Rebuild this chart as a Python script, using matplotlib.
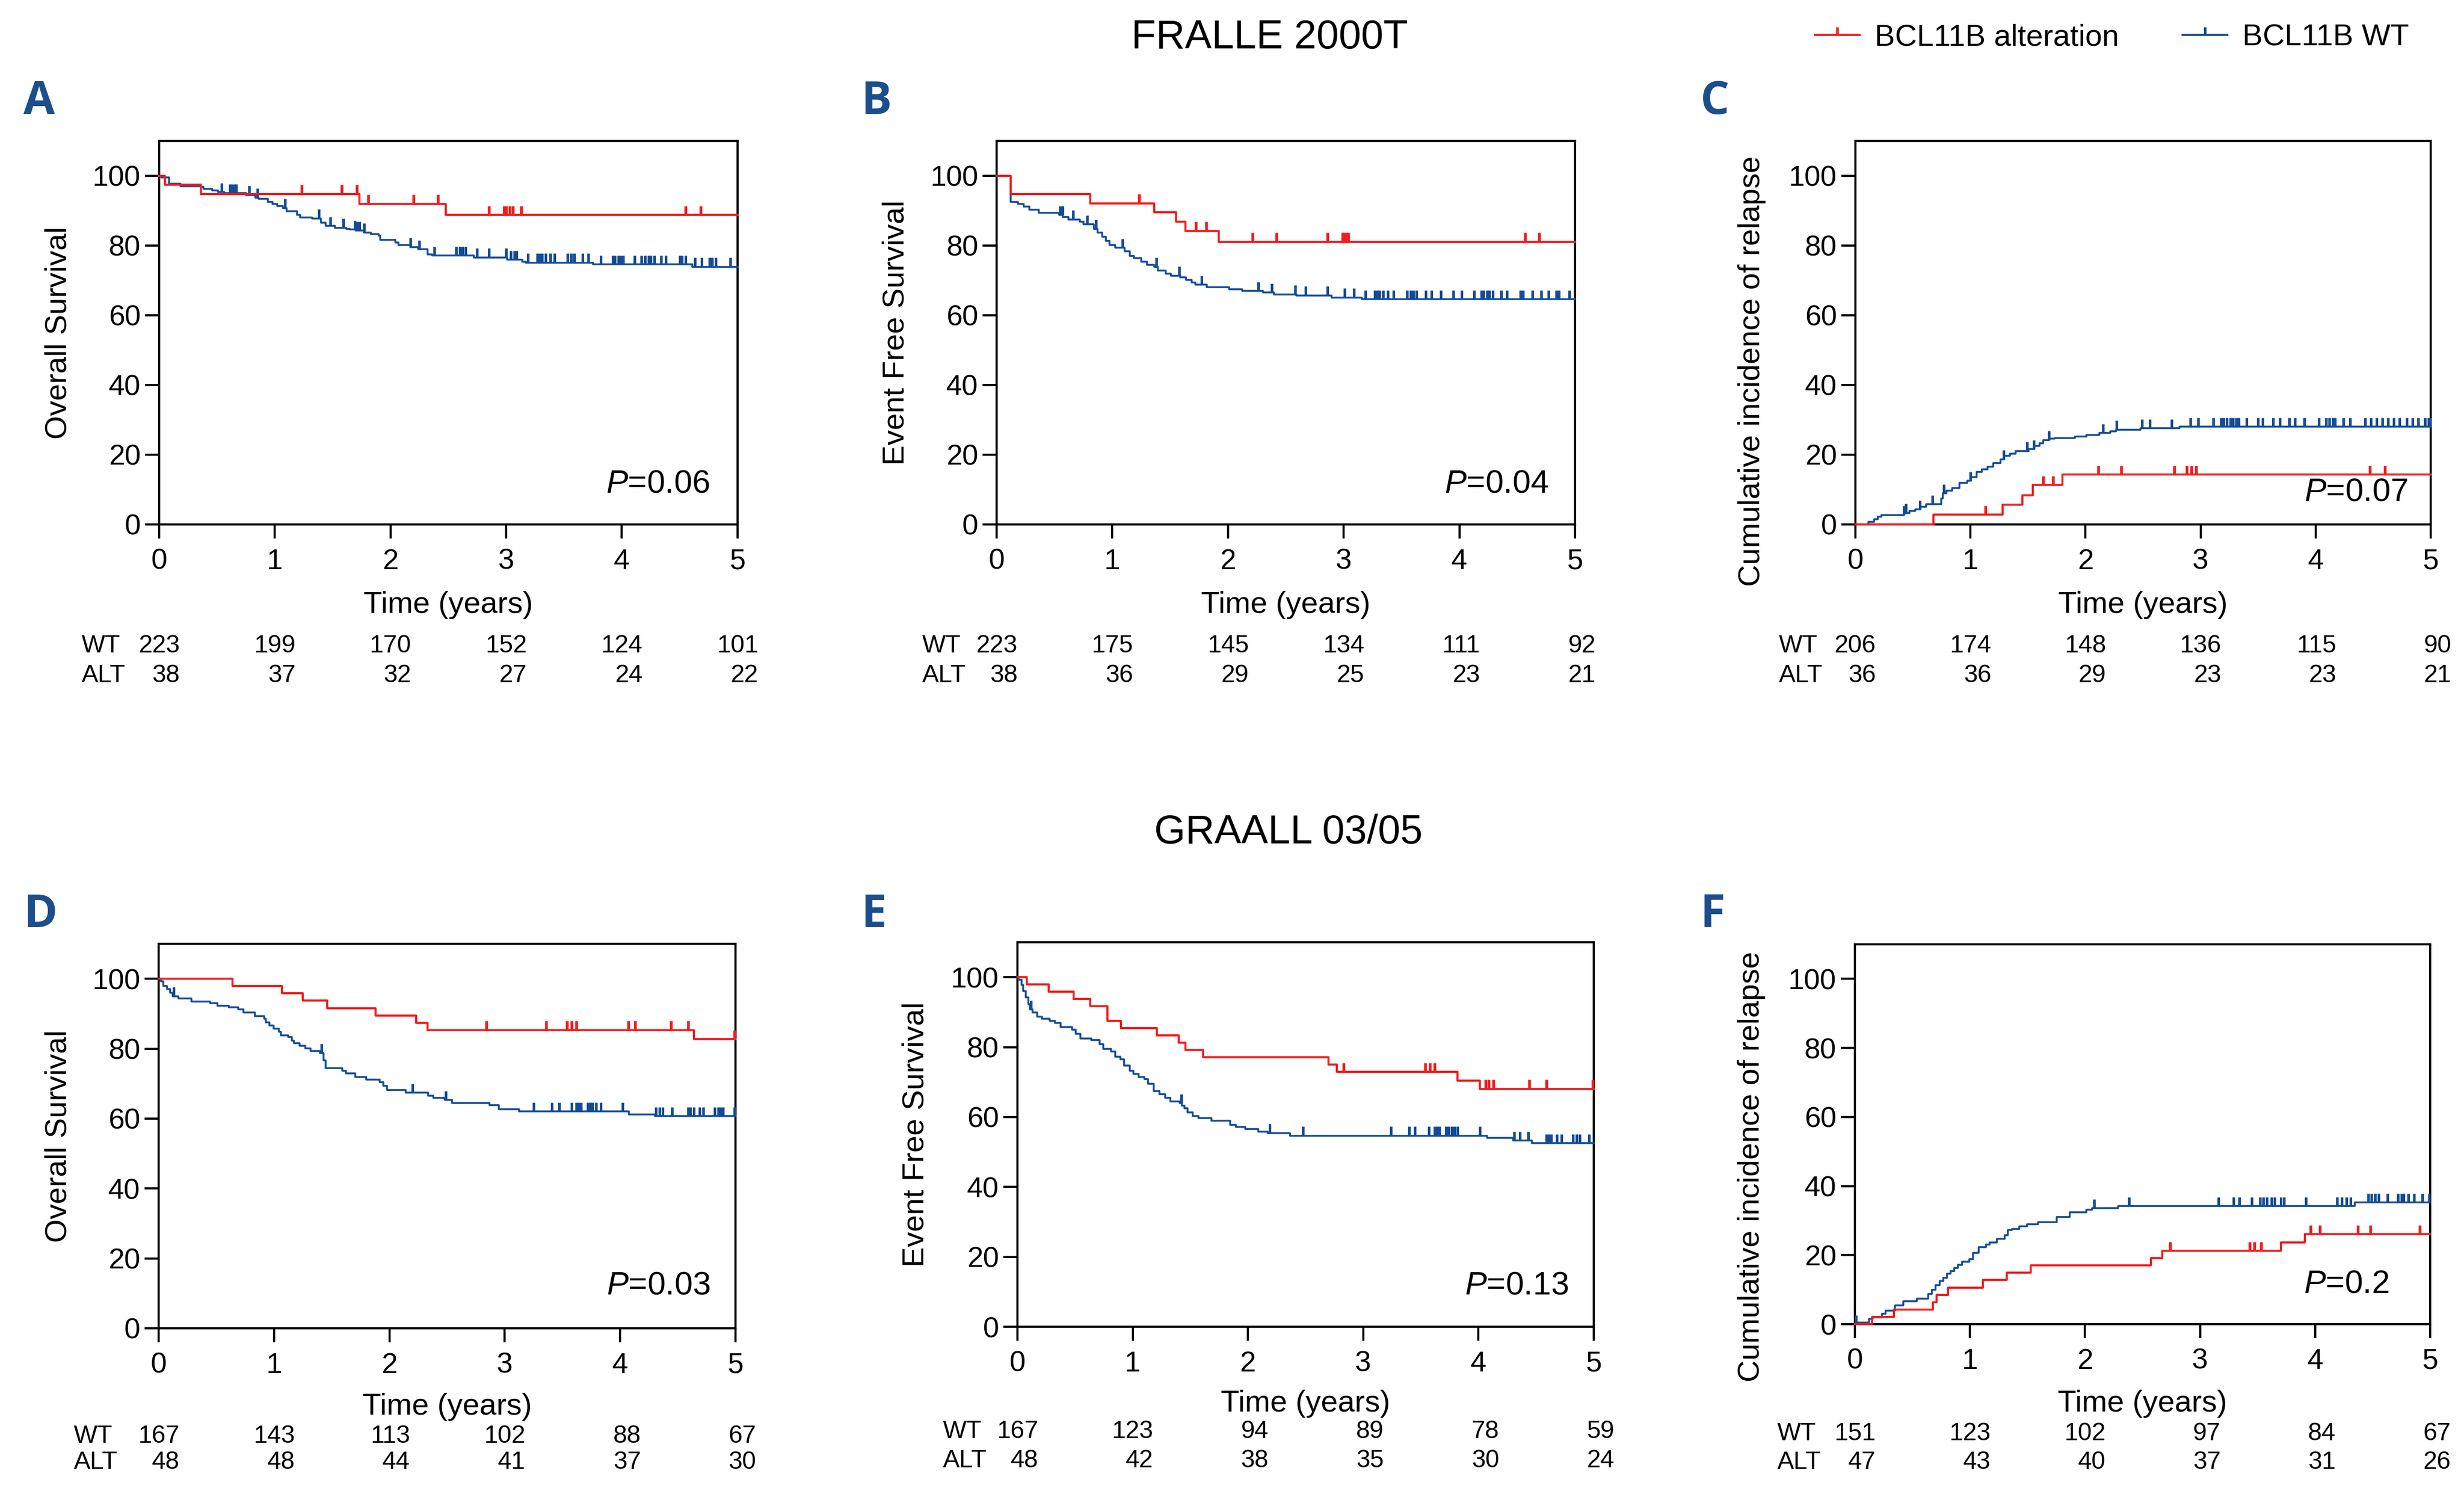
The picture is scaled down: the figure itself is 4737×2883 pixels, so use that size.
import numpy as np
import matplotlib
matplotlib.use('Agg')
import matplotlib.pyplot as plt
from matplotlib.lines import Line2D
from matplotlib.path import Path

plt.rcParams['font.family'] = ['Liberation Sans', 'DejaVu Sans']
plt.rcParams['mathtext.fontset'] = 'custom'
plt.rcParams['mathtext.it'] = 'Liberation Sans:italic'
plt.rcParams['mathtext.rm'] = 'Liberation Sans'

RED = '#f41c1c'
BLUE = '#134b94'
LETTER = '#1b4e8b'

# ---------------- Panel A : FRALLE 2000T, overall survival ----------------
a_alt_t = [0, 0.05, 0.36, 1.73, 2.48]
a_alt_s = [100, 97.4, 94.8, 92.0, 88.8]
a_alt_c = [1.23, 1.58, 1.71, 1.81, 2.20, 2.41, 2.85, 2.98, 3.00, 3.03, 3.06, 3.13, 4.55, 4.68]
a_wt_t = [0, 0.02, 0.087, 0.184, 0.362, 0.38, 0.46, 0.51, 0.56, 0.75, 0.83, 0.86, 0.94, 0.98,
          1.02, 1.07, 1.10, 1.19, 1.22, 1.32, 1.40, 1.44, 1.52, 1.62, 1.65, 1.70, 1.77, 1.83,
          1.90, 1.91, 2.04, 2.07, 2.17, 2.24, 2.32, 2.36, 2.72, 3.01, 3.14, 3.17, 3.75, 4.61]
a_wt_s = [100, 99.5, 97.8, 97.0, 96.8, 96.3, 95.8, 95.3, 95.0, 94.5, 93.8, 93.4, 92.5, 92.0,
          91.4, 90.8, 89.8, 88.8, 88.1, 87.8, 86.6, 85.6, 85.1, 84.8, 84.6, 84.3, 83.8, 83.3,
          82.8, 81.6, 80.9, 80.1, 79.6, 78.9, 77.4, 77.1, 76.6, 75.9, 75.4, 75.1, 74.6, 73.9]
a_wt_c = [0.54, 0.61, 0.63, 0.65, 0.665, 0.78, 0.85, 1.09, 1.38, 1.48, 1.59, 1.69, 1.71, 1.73,
          1.77, 2.17, 2.25, 2.38, 2.57, 2.60, 2.62, 2.65, 2.75, 2.85, 3.00, 3.04, 3.07, 3.09,
          3.19, 3.27, 3.29, 3.31, 3.34, 3.38, 3.42, 3.53, 3.56, 3.59, 3.66, 3.71, 3.82, 3.92,
          3.94, 3.97, 3.99, 4.01, 4.11, 4.17, 4.20, 4.23, 4.25, 4.28, 4.34, 4.38, 4.50, 4.52,
          4.55, 4.63, 4.69, 4.76, 4.78, 4.81, 4.94]
a_risk_wt = [223, 199, 170, 152, 124, 101]
a_risk_alt = [38, 37, 32, 27, 24, 22]

# ---------------- Panel B : FRALLE 2000T, event free survival ----------------
b_alt_t = [0, 0.12, 0.81, 1.36, 1.55, 1.63, 1.92]
b_alt_s = [100, 94.7, 92.1, 89.5, 86.8, 84.2, 81.1]
b_alt_c = [1.23, 1.72, 1.81, 2.21, 2.42, 2.86, 2.99, 3.00, 3.02, 3.04, 4.57, 4.69]
b_wt_t = [0, 0.12, 0.184, 0.233, 0.281, 0.362, 0.539, 0.572, 0.620, 0.717, 0.749, 0.840, 0.872,
          0.911, 0.943, 0.975, 1.024, 1.105, 1.153, 1.185, 1.250, 1.298, 1.363, 1.395, 1.460,
          1.508, 1.589, 1.638, 1.686, 1.718, 1.815, 2.009, 2.122, 2.300, 2.397, 2.590, 2.897, 3.156]
b_wt_s = [100, 92.5, 92.0, 91.2, 90.3, 89.4, 88.8, 88.2, 87.5, 86.8, 86.1, 84.8, 83.8,
          82.6, 81.3, 80.1, 79.4, 78.4, 77.0, 76.4, 75.4, 74.5, 73.9, 72.9, 72.0,
          71.4, 70.9, 70.1, 69.4, 68.8, 68.0, 67.4, 67.0, 66.5, 66.0, 65.7, 65.1, 64.6]
b_wt_c = [0.55, 0.57, 0.66, 0.78, 0.86, 1.09, 1.38, 1.58, 1.77, 2.26, 2.38, 2.58, 2.67, 2.86,
          3.01, 3.09, 3.19, 3.27, 3.29, 3.31, 3.34, 3.38, 3.43, 3.55, 3.58, 3.60, 3.63, 3.71,
          3.76, 3.84, 3.95, 4.02, 4.13, 4.19, 4.21, 4.24, 4.26, 4.29, 4.36, 4.41, 4.53, 4.55,
          4.63, 4.71, 4.77, 4.84, 4.86, 4.95]
b_risk_wt = [223, 175, 145, 134, 111, 92]
b_risk_alt = [38, 36, 29, 25, 23, 21]

# ---------------- Panel C : FRALLE 2000T, cumulative incidence of relapse ----------------
c_alt_t = [0, 0.68, 1.28, 1.45, 1.54, 1.80]
c_alt_s = [0, 2.8, 5.6, 8.4, 11.3, 14.3]
c_alt_c = [1.13, 1.63, 1.72, 2.11, 2.31, 2.77, 2.88, 2.92, 2.96, 4.47, 4.60]
c_wt_t = [0, 0.113, 0.162, 0.194, 0.227, 0.421, 0.469, 0.518, 0.566, 0.615, 0.744, 0.761,
          0.793, 0.841, 0.906, 0.971, 1.003, 1.052, 1.100, 1.149, 1.197, 1.262, 1.294, 1.343,
          1.392, 1.505, 1.553, 1.602, 1.634, 1.683, 1.731, 1.909, 2.006, 2.120, 2.217, 2.265,
          2.476, 2.816]
c_wt_s = [0, 0.8, 1.5, 2.2, 2.7, 3.3, 3.8, 4.3, 5.1, 5.8, 7.4, 8.9,
          9.7, 10.5, 12.0, 12.5, 13.5, 15.1, 15.8, 16.6, 17.6, 18.7, 19.7, 20.3,
          21.1, 21.6, 22.5, 23.2, 24.2, 24.6, 24.8, 25.2, 25.7, 26.2, 26.7, 27.2,
          27.6, 28.0]
c_wt_c = [0.42, 0.44, 0.56, 0.67, 0.77, 1.00, 1.29, 1.49, 1.55, 1.68, 2.15, 2.27, 2.49, 2.56,
          2.75, 2.91, 2.98, 3.11, 3.18, 3.20, 3.23, 3.26, 3.28, 3.31, 3.33, 3.40, 3.50, 3.54,
          3.63, 3.69, 3.77, 3.82, 3.90, 4.03, 4.09, 4.12, 4.15, 4.17, 4.24, 4.30, 4.43, 4.48,
          4.53, 4.58, 4.63, 4.68, 4.73, 4.79, 4.84, 4.89, 4.95, 4.98, 4.995]
c_risk_wt = [206, 174, 148, 136, 115, 90]
c_risk_alt = [36, 36, 29, 23, 23, 21]

# ---------------- Panel D : GRAALL 03/05, overall survival ----------------
d_alt_t = [0, 0.64, 1.07, 1.25, 1.46, 1.88, 2.23, 2.33, 4.64]
d_alt_s = [100, 97.9, 95.8, 93.7, 91.6, 89.5, 87.4, 85.3, 82.7]
d_alt_c = [2.84, 3.36, 3.54, 3.58, 3.62, 4.07, 4.13, 4.44, 4.59, 4.99]
d_wt_t = [0, 0.016, 0.042, 0.074, 0.100, 0.123, 0.171, 0.284, 0.445, 0.510, 0.607, 0.688,
          0.736, 0.833, 0.913, 0.930, 0.962, 0.994, 1.043, 1.059, 1.123, 1.156, 1.172, 1.220,
          1.269, 1.317, 1.398, 1.430, 1.446, 1.591, 1.624, 1.704, 1.801, 1.914, 1.946, 1.979,
          2.140, 2.334, 2.382, 2.479, 2.544, 2.866, 2.947, 3.125, 4.077, 4.303]
d_wt_s = [100, 99.3, 98.0, 97.0, 96.0, 95.0, 94.3, 93.5, 93.0, 92.3, 91.8, 91.3,
          90.3, 89.3, 88.5, 87.5, 86.6, 85.8, 84.8, 83.8, 83.3, 82.3, 81.6, 80.8,
          80.1, 79.3, 78.8, 76.6, 74.4, 73.6, 72.9, 71.9, 71.1, 70.4, 69.4, 68.1,
          67.4, 66.6, 65.9, 65.3, 64.5, 63.9, 62.6, 62.0, 61.2, 60.7]
d_wt_c = [0.13, 1.41, 2.20, 2.49, 3.25, 3.41, 3.47, 3.58, 3.62, 3.64, 3.66, 3.72, 3.74, 3.76,
          3.79, 3.83, 4.02, 4.31, 4.34, 4.37, 4.45, 4.59, 4.61, 4.64, 4.69, 4.72, 4.82, 4.85,
          4.87, 4.89, 4.99]
d_risk_wt = [167, 143, 113, 102, 88, 67]
d_risk_alt = [48, 48, 44, 41, 37, 30]

# ---------------- Panel E : GRAALL 03/05, event free survival ----------------
e_alt_t = [0, 0.08, 0.27, 0.49, 0.63, 0.78, 0.90, 1.21, 1.40, 1.46, 1.61, 2.70, 2.77, 3.82, 4.01]
e_alt_s = [100, 97.9, 95.8, 93.8, 91.7, 87.5, 85.4, 83.3, 81.3, 79.2, 77.1, 75.0, 72.9, 70.4, 68.1]
e_alt_c = [2.83, 3.54, 3.58, 3.62, 4.06, 4.09, 4.13, 4.44, 4.59, 4.99]
e_wt_t = [0, 0.010, 0.036, 0.052, 0.074, 0.094, 0.107, 0.133, 0.171, 0.213, 0.278, 0.326,
          0.375, 0.472, 0.504, 0.546, 0.643, 0.714, 0.747, 0.811, 0.850, 0.892, 0.924, 0.973,
          1.005, 1.054, 1.102, 1.134, 1.183, 1.231, 1.280, 1.328, 1.409, 1.425, 1.451, 1.474,
          1.522, 1.571, 1.684, 1.846, 1.894, 1.975, 2.088, 2.169, 2.363, 4.076, 4.302, 4.463]
e_wt_s = [100, 99.3, 97.8, 96.0, 94.3, 92.3, 90.8, 89.9, 88.8, 88.2, 87.5, 86.9,
          85.8, 85.0, 83.8, 82.5, 82.0, 80.8, 79.5, 78.8, 77.3, 76.5, 74.8, 73.3,
          72.3, 71.5, 70.8, 69.5, 67.5, 66.5, 65.5, 64.5, 64.0, 63.3, 62.5, 61.3,
          60.3, 59.7, 59.0, 57.8, 57.2, 56.5, 55.9, 55.4, 54.7, 54.0, 53.3, 52.5]
e_wt_c = [0.12, 1.42, 2.19, 2.48, 3.24, 3.40, 3.45, 3.57, 3.62, 3.64, 3.66, 3.72, 3.74, 3.77,
          3.79, 3.82, 4.01, 4.31, 4.36, 4.43, 4.59, 4.61, 4.63, 4.68, 4.72, 4.82, 4.85, 4.88, 4.96]
e_risk_wt = [167, 123, 94, 89, 78, 59]
e_risk_alt = [48, 42, 38, 35, 30, 24]

# ---------------- Panel F : GRAALL 03/05, cumulative incidence of relapse ----------------
f_alt_t = [0, 0.15, 0.34, 0.68, 0.71, 0.81, 1.11, 1.32, 1.53, 2.57, 2.67, 3.70, 3.91]
f_alt_s = [0, 2.1, 4.3, 6.4, 8.5, 10.6, 12.8, 14.9, 17.0, 19.2, 21.3, 23.7, 26.1]
f_alt_c = [2.74, 3.43, 3.47, 3.53, 3.96, 4.04, 4.37, 4.48, 4.91]
f_wt_t = [0, 0.013, 0.120, 0.152, 0.233, 0.265, 0.346, 0.421, 0.540, 0.638, 0.670, 0.702,
          0.735, 0.767, 0.799, 0.832, 0.864, 0.896, 0.929, 0.994, 1.026, 1.074, 1.139, 1.172,
          1.236, 1.301, 1.327, 1.366, 1.430, 1.495, 1.592, 1.754, 1.867, 2.013, 2.061, 2.288, 4.343]
f_wt_s = [0, 0.5, 1.5, 2.0, 3.0, 4.0, 5.4, 6.6, 7.4, 8.8, 10.0, 11.3,
          12.5, 13.5, 14.6, 15.4, 16.3, 17.2, 18.1, 18.8, 20.6, 22.3, 23.1, 23.6,
          24.8, 25.8, 27.3, 27.6, 28.3, 29.0, 29.6, 31.0, 32.4, 33.1, 33.6, 34.2, 35.3]
f_wt_c = [0.01, 2.08, 2.38, 3.16, 3.29, 3.34, 3.45, 3.52, 3.55, 3.58, 3.62, 3.65, 3.70, 3.73,
          3.92, 4.19, 4.23, 4.27, 4.31, 4.46, 4.49, 4.52, 4.55, 4.63, 4.72, 4.75, 4.77, 4.81,
          4.86, 4.93, 4.99]
f_risk_wt = [151, 123, 102, 97, 84, 67]
f_risk_alt = [47, 43, 40, 37, 31, 26]

p_values = ['0.06', '0.04', '0.07', '0.03', '0.13', '0.2']
ylabels = ['Overall Survival', 'Event Free Survival', 'Cumulative incidence of relapse'] * 2
letters = ['A', 'B', 'C', 'D', 'E', 'F']

panels = [
    (a_alt_t, a_alt_s, a_alt_c, a_wt_t, a_wt_s, a_wt_c, a_risk_wt, a_risk_alt),
    (b_alt_t, b_alt_s, b_alt_c, b_wt_t, b_wt_s, b_wt_c, b_risk_wt, b_risk_alt),
    (c_alt_t, c_alt_s, c_alt_c, c_wt_t, c_wt_s, c_wt_c, c_risk_wt, c_risk_alt),
    (d_alt_t, d_alt_s, d_alt_c, d_wt_t, d_wt_s, d_wt_c, d_risk_wt, d_risk_alt),
    (e_alt_t, e_alt_s, e_alt_c, e_wt_t, e_wt_s, e_wt_c, e_risk_wt, e_risk_alt),
    (f_alt_t, f_alt_s, f_alt_c, f_wt_t, f_wt_s, f_wt_c, f_risk_wt, f_risk_alt),
]

# layout (figure fractions) and text placement per panel
rects = [[0.0646, 0.6504, 0.2347, 0.2556], [0.4045, 0.6504, 0.2347, 0.2556],
         [0.7530, 0.6504, 0.2335, 0.2556], [0.0644, 0.1145, 0.2341, 0.2563],
         [0.4129, 0.1155, 0.2339, 0.2563], [0.7528, 0.1172, 0.2335, 0.2532]]
ylab_pos = [(-0.174, 0.5), (-0.174, 0.5), (-0.18, 0.40), (-0.174, 0.5), (-0.176, 0.5), (-0.18, 0.415)]
xlab_y = [-0.21, -0.21, -0.21, -0.204, -0.20, -0.21]
risk_y = [(-0.3175, -0.395), (-0.3175, -0.395), (-0.3175, -0.395),
          (-0.281, -0.348), (-0.273, -0.348), (-0.288, -0.363)]
risk_lab_x = [-0.134, -0.129, -0.133, -0.147, -0.129, -0.135]
p_pos = [(4.76, 11.6), (4.77, 11.6), (4.80, 9.3), (4.78, 12.2), (4.78, 11.8), (4.64, 11.6)]
letter_pos = [(0.0095, 0.932), (0.3494, 0.932), (0.690, 0.932),
              (0.0095, 0.390), (0.3494, 0.390), (0.690, 0.390)]

TICK_H = 2.6


def draw_curve(ax, t, s, cens, color, lw):
    t = np.asarray(t, float)
    s = np.asarray(s, float)
    ax.step(np.append(t, 5), np.append(s, s[-1]), where='post', color=color, lw=lw,
            clip_on=False, zorder=3)
    c = np.asarray(cens, float)
    v = s[np.searchsorted(t, c, side='right') - 1]
    ax.vlines(c, v, v + TICK_H, color=color, lw=lw + 0.35, clip_on=False, zorder=3)


fig = plt.figure(figsize=(4737 / 300, 2883 / 300), dpi=300)

for i, (alt_t, alt_s, alt_c, wt_t, wt_s, wt_c, r_wt, r_alt) in enumerate(panels):
    ax = fig.add_axes(rects[i])
    draw_curve(ax, wt_t, wt_s, wt_c, BLUE, 0.85)
    draw_curve(ax, alt_t, alt_s, alt_c, RED, 0.95)

    ax.set_xlim(0, 5)
    ax.set_ylim(0, 110)
    ax.set_xticks(range(6))
    ax.set_yticks(range(0, 101, 20))
    for sp in ax.spines.values():
        sp.set_linewidth(1.0)
    ax.tick_params(direction='out', length=6.5, width=1.0, labelsize=13.3)
    ax.tick_params(axis='y', pad=2)
    ax.tick_params(axis='x', pad=4.5)

    ax.set_ylabel(ylabels[i], fontsize=14, va='center')
    ax.yaxis.set_label_coords(*ylab_pos[i])
    ax.set_xlabel('Time (years)', fontsize=14, va='center')
    ax.xaxis.set_label_coords(0.5, xlab_y[i])

    tr = ax.get_xaxis_transform()
    ax.text(risk_lab_x[i], risk_y[i][0], 'WT', transform=ax.transAxes, ha='left', va='center', fontsize=11.5)
    ax.text(risk_lab_x[i], risk_y[i][1], 'ALT', transform=ax.transAxes, ha='left', va='center', fontsize=11.5)
    for k in range(6):
        ax.text(k + 0.18, risk_y[i][0], str(r_wt[k]), transform=tr, ha='right', va='center', fontsize=11.5)
        ax.text(k + 0.18, risk_y[i][1], str(r_alt[k]), transform=tr, ha='right', va='center', fontsize=11.5)

    ax.text(p_pos[i][0], p_pos[i][1], r'$P$=' + p_values[i], ha='right', va='center', fontsize=15)

    fig.text(letter_pos[i][0], letter_pos[i][1], letters[i], ha='left', va='center',
             fontsize=21, fontweight='bold', color=LETTER, family=['Open Sans', 'DejaVu Sans'])

fig.text(0.5153, 0.975, 'FRALLE 2000T', ha='center', va='center', fontsize=18.5)
fig.text(0.523, 0.4447, 'GRAALL 03/05', ha='center', va='center', fontsize=18.5)

tick_marker = Path([(0, 0), (0, 1)], [Path.MOVETO, Path.LINETO])
handles = [Line2D([], [], color=RED, lw=1.0, marker=tick_marker, markersize=7, markeredgewidth=1.2),
           Line2D([], [], color=BLUE, lw=1.0, marker=tick_marker, markersize=7, markeredgewidth=1.2)]
fig.legend(handles, ['BCL11B alteration', 'BCL11B WT'], loc='center left',
           bbox_to_anchor=(0.7365, 0.975), ncol=2, frameon=False, fontsize=14,
           handlelength=1.47, handletextpad=0.5, columnspacing=2.1, borderpad=0,
           borderaxespad=0, numpoints=1)

fig.savefig('out.png', dpi=300, facecolor='white')
